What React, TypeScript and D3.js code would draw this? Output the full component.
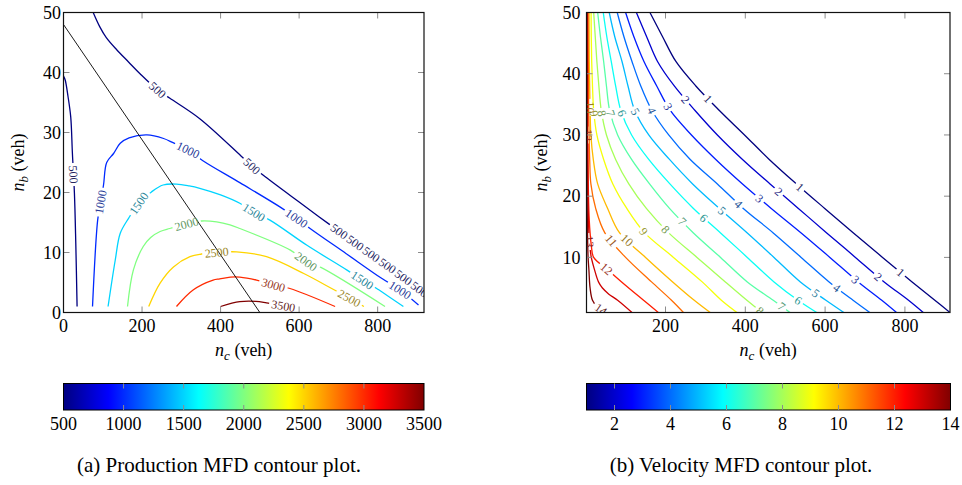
import React from "react";
import * as d3 from "d3";

type Pt = [number, number];
type Lab = [number, number, number];

const TS = { fontFamily: "Liberation Serif" };

// ---------- colormap (pgfplots jet) ----------
const jetPos = [0, 0.125, 0.375, 0.625, 0.875, 1];
const jetColors = ["#000080", "#0000ff", "#00ffff", "#ffff00", "#ff0000", "#800000"];

// ---------- (a) production contours ----------
const prodLevels = [500, 1000, 1500, 2000, 2500, 3000, 3500];
const prod500a: Pt[] = [[0, 39.4], [4.3, 38.75], [11.5, 36], [18.4, 32.6], [22.7, 26.5], [27.8, 19.9], [31.3, 11.5], [34.6, 1]];
const prod500b: Pt[] = [[75.6, 50], [92.5, 47.6], [109, 45.8], [136, 43.75], [165, 41.8], [195.5, 39.75], [239.5, 37.1], [271, 35.7], [347, 32.3], [452, 26.1], [480, 24.4], [508, 22.9], [600, 18.4], [679, 14.6], [760, 10.8], [840, 7.1], [918, 3.3]];
const prod1000: Pt[] = [[73.9, 1], [87, 15.4], [94.5, 18.4], [101.9, 21.25], [110, 25], [127.5, 26.5], [144.5, 28.2], [167, 29.1], [212.6, 29.6], [254.9, 29.0], [279, 28.3], [317.4, 27.1], [355, 25.3], [450, 21.6], [551, 17.6], [593.6, 15.7], [627.9, 14.0], [720, 9.8], [810, 5.7], [857, 3.75], [904, 1.25]];
const prod1500: Pt[] = [[113.5, 1], [131.8, 8.75], [144.5, 13.2], [165.7, 15.7], [191.7, 18.2], [224, 20.1], [253.6, 21.25], [287.8, 21.4], [320, 21.1], [347, 20.7], [400, 19.6], [449, 18.2], [485, 16.7], [525.6, 15.4], [620, 11.2], [721, 7.1], [761, 5.4], [797.6, 4.0], [865.5, 1]];
const prod2000: Pt[] = [[163, 1], [178, 7.1], [203, 11], [222, 12.5], [246, 13.5], [270.7, 14.0], [313.3, 14.75], [351.5, 15.25], [390, 15.1], [424, 14.6], [449, 14], [577.7, 10.4], [617.6, 8.5], [653, 7.6], [818.7, 1]];
const prod2500: Pt[] = [[217, 1], [246, 4.9], [280, 7.6], [322, 9.3], [351.5, 9.75], [390, 10], [440.7, 10.1], [517, 9.3], [611.8, 6.5], [683, 4.0], [727.8, 2.4], [765, 1]];
const prod3000: Pt[] = [[287.7, 1], [330, 3.75], [381, 5.4], [398, 5.6], [424.9, 5.9], [449, 5.9], [491.6, 5.4], [534.3, 4.6], [576.6, 4.0], [691.6, 1]];
const prod3500: Pt[] = [[400, 1], [449, 1.8], [490, 1.85], [517, 1.6], [560, 1.1], [570, 1]];
const prodFrontier: Pt[] = [[0, 48], [500, 0]];
const prodLabels: Lab[] = [
  [500, 25.5, 23], [500, 239.5, 37.1], [500, 480, 24.4],
  [500, 703, 13.6], [500, 744, 11.7], [500, 785, 9.8], [500, 826, 7.9], [500, 867, 5.95], [500, 908, 4.0],
  [1000, 94.5, 18.4], [1000, 317.4, 27.1], [1000, 593.6, 15.7], [1000, 857, 3.75],
  [1500, 191.7, 18.2], [1500, 485, 16.7], [1500, 761, 5.4],
  [2000, 313.3, 14.75], [2000, 617.6, 8.5],
  [2500, 390, 10], [2500, 727.8, 2.4],
  [3000, 534.3, 4.6],
  [3500, 560, 1.1],
];
const prodXTicks = [0, 200, 400, 600, 800];
const prodYTicks = [0, 10, 20, 30, 40, 50];
const prodBarTicks = [500, 1000, 1500, 2000, 2500, 3000, 3500];

// ---------- (b) velocity contours ----------
const velLevels = [1, 2, 3, 4, 5, 6, 7, 8, 9, 10, 11, 12, 13, 14];
const vel1: Pt[] = [[161, 50], [193, 46], [226, 42], [276, 38], [335, 34], [398, 30], [460, 26], [528, 22], [599, 18], [671, 14], [744, 10], [818, 6], [875, 3], [913, 1]];
const vel2: Pt[] = [[127, 50], [153, 46], [180, 42], [222, 38], [274, 34], [330, 30], [393, 26], [462, 22], [533, 18], [604, 14], [676, 10], [748, 6], [809, 3], [846, 1]];
const vel3: Pt[] = [[100, 50], [121, 46], [146, 42], [178, 38], [212, 34], [265, 30], [326, 26], [393, 22], [465, 18], [540, 14], [612, 10], [683, 6], [742, 3], [779, 1]];
const vel4: Pt[] = [[79, 50], [96, 46], [116, 42], [138, 38], [166, 34], [208, 30], [262, 26], [330, 22], [395, 18], [470, 14], [540, 10], [610, 6], [670, 3], [712, 1]];
const vel5: Pt[] = [[59, 50], [73, 46], [91, 42], [106, 38], [123, 34], [158, 30], [210, 26], [268, 22], [335, 18], [405, 14], [472, 10], [538, 6], [602, 3], [647, 1]];
const vel6: Pt[] = [[44, 50], [53, 46], [64, 42], [75, 38], [88, 34], [115, 30], [158, 26], [211, 22], [270, 18], [338, 14], [405, 10], [472, 6], [532, 3], [579, 1]];
const vel7: Pt[] = [[30, 50], [37, 46], [45, 42], [52, 38], [60, 34], [80, 30], [115, 26], [160, 22], [210, 18], [270, 14], [338, 10], [405, 6], [470, 3], [512, 1]];
const vel8: Pt[] = [[20, 50], [24, 46], [28, 42], [33, 38], [39, 34], [52, 30], [75, 26], [108, 22], [152, 18], [208, 14], [279, 10], [350, 6], [404, 3], [442, 1]];
const vel9: Pt[] = [[13.5, 50], [14, 46], [15, 42], [17, 38], [20, 34], [28, 30], [45, 26], [68, 22], [103, 18], [148, 14], [220, 10], [292, 6], [340, 3], [379, 1]];
const vel10: Pt[] = [[8.5, 50], [8.7, 46], [9, 42], [10, 38], [11, 34], [13, 30], [19, 26], [30, 22], [55, 18], [85, 14], [150, 10], [218, 6], [272, 3], [312, 1]];
const vel11: Pt[] = [[6, 50], [6.5, 42], [7, 38], [7.5, 34], [8.5, 30], [10, 26], [13, 22], [25, 18], [48, 14], [100, 10], [165, 6], [215, 3], [245, 1]];
const vel12: Pt[] = [[4.5, 50], [4.8, 42], [5.3, 34], [6, 26], [7, 20], [9, 16], [11, 14], [14, 12], [20, 10], [55, 8], [90, 6], [145, 3], [182, 1]];
const vel13: Pt[] = [[3.5, 50], [3.7, 42], [4, 34], [4.5, 26], [5.5, 20], [7, 16], [8, 14], [10, 12], [14, 10], [22, 8], [32, 6], [42, 5], [58, 4], [80, 3], [116, 1]];
const vel14: Pt[] = [[2.8, 50], [2.9, 40], [3.1, 30], [3.5, 20], [4.5, 14], [6, 10], [8, 8], [11, 5], [17, 3], [28, 2], [50, 1]];
const velLabels: Lab[] = [
  [1, 304, 35.7], [2, 249, 35.7], [3, 205, 34.6], [4, 166, 34], [5, 124, 33.8], [6, 88, 33.5], [7, 61, 33.5], [8, 39, 33.5], [9, 20, 33.5], [10, 11, 34.5], [12, 5.5, 30],
  [1, 537, 21.5], [2, 483, 20.7], [3, 437, 19.7], [4, 383, 18.7], [5, 341, 17.6], [6, 295, 16.4], [7, 241, 15.8], [8, 199, 14.5], [9, 145, 14.2], [10, 103, 12.8], [11, 61, 12.6], [13, 9, 12.6],
  [1, 788, 7.4], [2, 733, 6.8], [3, 675, 6.3], [4, 629, 5], [5, 579, 4.4], [6, 533, 3], [7, 491, 2], [8, 437, 1.3], [12, 53, 8.2], [14, 40, 1.7],
];
const velXTicks = [200, 400, 600, 800];
const velYTicks = [10, 20, 30, 40, 50];
const velBarTicks = [2, 4, 6, 8, 10, 12, 14];

const prodContours = [
  { level: prodLevels[0], pts: prod500a }, { level: prodLevels[0], pts: prod500b },
  { level: prodLevels[1], pts: prod1000 }, { level: prodLevels[2], pts: prod1500 },
  { level: prodLevels[3], pts: prod2000 }, { level: prodLevels[4], pts: prod2500 },
  { level: prodLevels[5], pts: prod3000 }, { level: prodLevels[6], pts: prod3500 },
];
const velLines = [vel1, vel2, vel3, vel4, vel5, vel6, vel7, vel8, vel9, vel10, vel11, vel12, vel13, vel14];
const velContours = velLevels.map((lv, i) => ({ level: lv, pts: velLines[i] }));

const jet = d3.scaleLinear<string>().domain(jetPos).range(jetColors).interpolate(d3.interpolateRgb).clamp(true);

const LFS = 12;

type Box = { x0: number; x1: number; y0: number; y1: number };

function ContourPanel(props: {
  id: string; box: Box; xDomain: [number, number]; yDomain: [number, number];
  xTicks: number[]; yTicks: number[]; yTickEnd: number; yLabX: number;
  contours: { level: number; pts: Pt[] }[]; labels: Lab[]; cmin: number; cmax: number; extra?: Pt[];
}) {
  const { id, box, xDomain, yDomain, xTicks, yTicks, yTickEnd, yLabX, contours, labels, cmin, cmax, extra } = props;
  const x = d3.scaleLinear().domain(xDomain).range([box.x0, box.x1]);
  const y = d3.scaleLinear().domain(yDomain).range([box.y1, box.y0]);
  const line = d3.line<Pt>().x(d => x(d[0])).y(d => y(d[1])).curve(d3.curveCatmullRom.alpha(0.5));
  const col = (lv: number) => jet((lv - cmin) / (cmax - cmin));
  const labCol = (lv: number) => d3.interpolateRgb(col(lv), "#444")(0.55);

  const placed = labels.map(([lv, nc, nb]) => {
    const px = x(nc), py = y(nb);
    let best = { d: Infinity, X: px, Y: py, a: 0 };
    contours.filter(c => c.level === lv).forEach(c => {
      for (let i = 0; i < c.pts.length - 1; i++) {
        const ax = x(c.pts[i][0]), ay = y(c.pts[i][1]), bx = x(c.pts[i + 1][0]), by = y(c.pts[i + 1][1]);
        const dx = bx - ax, dy = by - ay;
        const L2 = dx * dx + dy * dy || 1;
        let t = ((px - ax) * dx + (py - ay) * dy) / L2;
        t = Math.max(0, Math.min(1, t));
        const qx = ax + t * dx, qy = ay + t * dy;
        const d = (qx - px) ** 2 + (qy - py) ** 2;
        if (d < best.d) best = { d, X: qx, Y: qy, a: (Math.atan2(dy, dx) * 180) / Math.PI };
      }
    });
    return { lv, ...best };
  });
  const levels = Array.from(new Set(contours.map(c => c.level)));
  const tl = 6;
  const w = box.x1 - box.x0, h = box.y1 - box.y0;
  return (
    <g>
      <defs>
        <clipPath id={`${id}-clip`}><rect x={box.x0} y={box.y0} width={w} height={h} /></clipPath>
        {levels.map(lv => (
          <mask id={`${id}-m${lv}`} key={lv} maskUnits="userSpaceOnUse" x={0} y={0} width={962} height={485}>
            <rect x={0} y={0} width={962} height={485} fill="white" />
            {placed.filter(p => p.lv === lv).map((p, i) => {
              const rw = String(lv).length * LFS * 0.5 + 5;
              const rh = LFS * 0.8;
              return <rect key={i} transform={`translate(${p.X},${p.Y}) rotate(${p.a})`} x={-rw / 2} y={-rh / 2} width={rw} height={rh} fill="black" />;
            })}
          </mask>
        ))}
      </defs>
      <g clipPath={`url(#${id}-clip)`}>
        {contours.map((c, i) => (
          <path key={i} d={line(c.pts) || ""} fill="none" stroke={col(c.level)} strokeWidth={1.3} mask={`url(#${id}-m${c.level})`} />
        ))}
        {extra && <path d={d3.line<Pt>().x(d => x(d[0])).y(d => y(d[1]))(extra) || ""} fill="none" stroke="#000" strokeWidth={0.9} />}
        {placed.map((p, i) => (
          <text key={i} style={TS} transform={`translate(${p.X},${p.Y}) rotate(${p.a})`} textAnchor="middle" dy="0.35em" fontSize={LFS} fill={labCol(p.lv)}>{p.lv}</text>
        ))}
      </g>
      {xTicks.map(t => (
        <g key={`x${t}`}>
          <line x1={x(t)} x2={x(t)} y1={box.y1} y2={box.y1 - tl} stroke="#8c8c8c" />
          <line x1={x(t)} x2={x(t)} y1={box.y0} y2={box.y0 + tl} stroke="#8c8c8c" />
          <text style={TS} x={x(t)} y={331.5} textAnchor="middle" fontSize={18}>{t}</text>
        </g>
      ))}
      {yTicks.map(t => (
        <g key={`y${t}`}>
          <line x1={box.x0} x2={box.x0 + tl} y1={y(t)} y2={y(t)} stroke="#8c8c8c" />
          <line x1={box.x1} x2={box.x1 - tl} y1={y(t)} y2={y(t)} stroke="#8c8c8c" />
          <text style={TS} x={yTickEnd} y={y(t)} dy="0.34em" textAnchor="end" fontSize={18}>{t}</text>
        </g>
      ))}
      <rect x={box.x0} y={box.y0} width={w} height={h} fill="none" stroke="#111" strokeWidth={1.2} />
      <text style={TS} x={(box.x0 + box.x1) / 2} y={356} textAnchor="middle" fontSize={18}>
        <tspan fontStyle="italic">n</tspan>
        <tspan fontStyle="italic" fontSize={13} dy={4}>c</tspan>
        <tspan dy={-4}>{" (veh)"}</tspan>
      </text>
      <text style={TS} transform={`translate(${yLabX},${(box.y0 + box.y1) / 2}) rotate(-90)`} textAnchor="middle" fontSize={18}>
        <tspan fontStyle="italic">n</tspan>
        <tspan fontStyle="italic" fontSize={13} dy={4}>b</tspan>
        <tspan dy={-4}>{" (veh)"}</tspan>
      </text>
    </g>
  );
}

function Colorbar(props: { x0: number; x1: number; y0: number; y1: number; min: number; max: number; ticks: number[] }) {
  const { x0, x1, y0, y1, min, max, ticks } = props;
  const s = d3.scaleLinear().domain([min, max]).range([x0, x1]);
  return (
    <g>
      <rect x={x0} y={y0} width={x1 - x0} height={y1 - y0} fill="url(#jetgrad)" stroke="#000" strokeWidth={1} />
      {ticks.map(t => (
        <g key={t}>
          {t > min && t < max && (
            <>
              <line x1={s(t)} x2={s(t)} y1={y0} y2={y0 + 5} stroke="#8c8c8c" />
              <line x1={s(t)} x2={s(t)} y1={y1 - 5} y2={y1} stroke="#8c8c8c" />
            </>
          )}
          <text style={TS} x={s(t)} y={430} textAnchor="middle" fontSize={18}>{t}</text>
        </g>
      ))}
    </g>
  );
}

export default function App() {
  const LB: Box = { x0: 63.5, x1: 424, y0: 12.5, y1: 312.5 };
  const RB: Box = { x0: 586.5, x1: 950, y0: 12.5, y1: 312.5 };
  return (
    <svg width={962} height={485} style={{ position: "absolute", left: 0, top: 0, background: "#fff", fontFamily: "Liberation Serif" }}>
      <defs>
        <linearGradient id="jetgrad" x1="0" x2="1" y1="0" y2="0">
          {jetPos.map((p, i) => <stop key={i} offset={p} stopColor={jetColors[i]} />)}
        </linearGradient>
      </defs>
      <rect x={0} y={0} width={962} height={485} fill="#fff" />
      <ContourPanel id="pa" box={LB} xDomain={[0, 918]} yDomain={[0, 50]} xTicks={prodXTicks} yTicks={prodYTicks}
        yTickEnd={61} yLabX={24} contours={prodContours} labels={prodLabels} cmin={500} cmax={3500} extra={prodFrontier} />
      <ContourPanel id="pb" box={RB} xDomain={[2, 913]} yDomain={[1, 50]} xTicks={velXTicks} yTicks={velYTicks}
        yTickEnd={580.5} yLabX={547} contours={velContours} labels={velLabels} cmin={1} cmax={14} />
      <Colorbar x0={63.5} x1={424} y0={383.5} y1={410} min={500} max={3500} ticks={prodBarTicks} />
      <Colorbar x0={586.5} x1={950.5} y0={383.5} y1={410} min={1} max={14} ticks={velBarTicks} />
      <text style={TS} x={219} y={472} textAnchor="middle" fontSize={21}>(a) Production MFD contour plot.</text>
      <text style={TS} x={741} y={472} textAnchor="middle" fontSize={21}>(b) Velocity MFD contour plot.</text>
    </svg>
  );
}
